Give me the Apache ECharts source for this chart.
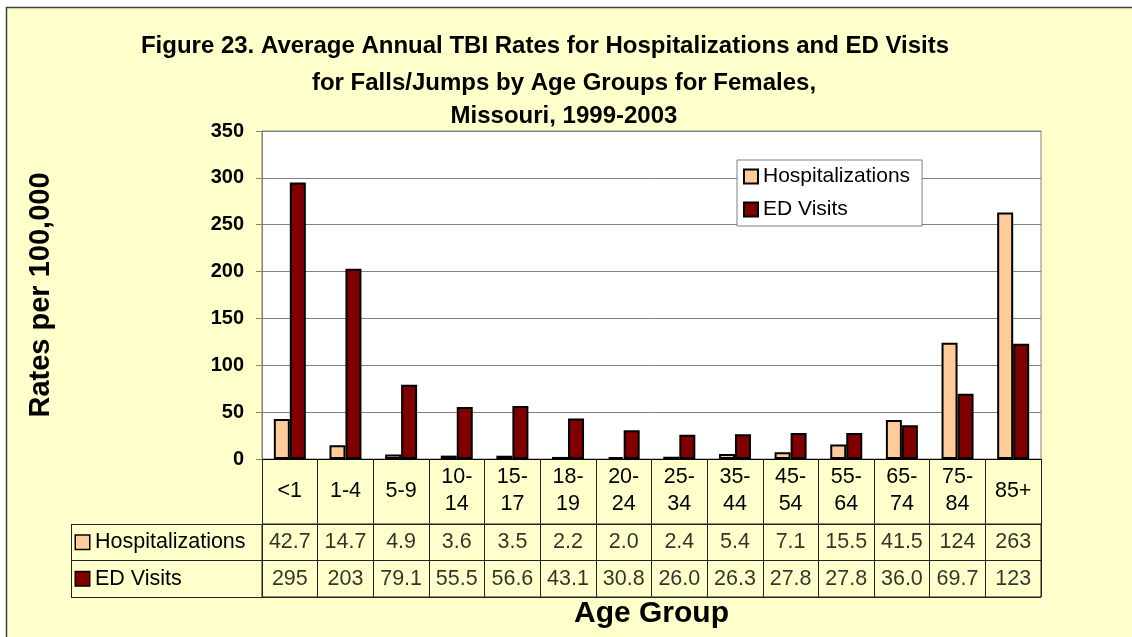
<!DOCTYPE html>
<html lang="en">
<head>
	<meta charset="UTF-8">
	<title>Figure 23</title>
	<script src="https://cdn.jsdelivr.net/npm/echarts@6/dist/echarts.min.js"></script>
	<style>
		html, body { margin: 0; padding: 0; background: #fff; }
		#chart { width: 1132px; height: 637px; }
	</style>
</head>
<body>
<div id="chart"></div>
<script>
	// age groups (x categories)
	var ageGroups = ['<1', '1-4', '5-9', '10-\n14', '15-\n17', '18-\n19', '20-\n24', '25-\n34', '35-\n44', '45-\n54', '55-\n64', '65-\n74', '75-\n84', '85+'];
	// rates per 100,000
	var hospitalizations = [42.7, 14.7, 4.9, 3.6, 3.5, 2.2, 2.0, 2.4, 5.4, 7.1, 15.5, 41.5, 124, 263];
	var edVisits = [295, 203, 79.1, 55.5, 56.6, 43.1, 30.8, 26.0, 26.3, 27.8, 27.8, 36.0, 69.7, 123];
	var rowNames = ['Hospitalizations', 'ED Visits'];
	var yTicks = [0, 50, 100, 150, 200, 250, 300, 350];

	var font = 'Liberation Sans, Arial, sans-serif';
	var peach = '#FFCC99', maroon = '#800000', paper = '#FFFFCC';

	function fmt(v) {
		return v >= 100 ? v.toFixed(0) : v.toFixed(1);
	}

	// table cells: [column, row, value]
	var cells = [];
	for (var i = 0; i < ageGroups.length; i++) {
		cells.push([i, 0, hospitalizations[i]]);
		cells.push([i, 1, edVisits[i]]);
	}

	var chart = echarts.init(document.getElementById('chart'));
	chart.setOption({
		backgroundColor: '#fff',
		textStyle: { fontFamily: font },
		animation: false,
		graphic: [
			{ type: 'rect', z: -100, shape: { x: 6.5, y: 7.5, width: 1200, height: 700 },
				style: { fill: paper, stroke: '#404040', lineWidth: 1.5 } },
			{ type: 'line', z: 10, shape: { x1: 71.5, y1: 524, x2: 71.5, y2: 597 },
				style: { stroke: '#222', lineWidth: 1 } }
		],
		title: [
			{
				text: 'Figure 23. Average Annual TBI Rates for Hospitalizations and ED Visits',
				left: 545, top: 34, textAlign: 'center', padding: 0,
				textStyle: { fontFamily: font, fontSize: 24, fontWeight: 'bold', color: '#000' }
			},
			{
				text: 'for Falls/Jumps by Age Groups for Females,\nMissouri, 1999-2003',
				left: 564, top: 67, textAlign: 'center', padding: 0,
				textStyle: { fontFamily: font, fontSize: 24, fontWeight: 'bold', color: '#000', lineHeight: 33 }
			}
		],
		legend: {
			data: rowNames,
			orient: 'vertical',
			left: 737, top: 160,
			backgroundColor: '#fff',
			borderColor: '#808080', borderWidth: 1,
			padding: [6, 12, 6, 6],
			itemGap: 12,
			itemWidth: 14, itemHeight: 14,
			icon: 'rect',
			textStyle: { fontFamily: font, fontSize: 21, color: '#000' }
		},
		grid: [
			{ left: 262, top: 131, width: 779, height: 328, show: true, backgroundColor: '#fff',
				borderColor: '#808080', borderWidth: 1, containLabel: false },
			{ left: 262, top: 524, width: 779, height: 73, show: true, backgroundColor: 'transparent',
				borderColor: '#222', borderWidth: 1, containLabel: false }
		],
		xAxis: [
			{
				type: 'category', gridIndex: 0, data: ageGroups,
				axisLine: { lineStyle: { color: '#000', width: 1 } },
				axisTick: { show: true, interval: 0, length: 138, lineStyle: { color: '#222' } },
				axisLabel: { interval: 0, margin: 32, verticalAlign: 'middle', fontFamily: font,
					fontSize: 21.5, lineHeight: 27, color: '#000' }
			},
			{
				type: 'category', gridIndex: 1, data: ageGroups,
				axisLine: { show: false }, axisTick: { show: false }, axisLabel: { show: false },
				name: 'Age Group', nameLocation: 'middle', nameGap: 17,
				nameTextStyle: { fontFamily: font, fontSize: 30, fontWeight: 'bold', color: '#000', verticalAlign: 'middle' }
			}
		],
		yAxis: [
			{
				type: 'value', gridIndex: 0, min: yTicks[0], max: yTicks[yTicks.length - 1], interval: 50,
				axisLine: { show: true, lineStyle: { color: '#808080' } },
				axisTick: { show: true, length: 6, lineStyle: { color: '#808080' } },
				axisLabel: { margin: 18, fontFamily: font, fontSize: 20, fontWeight: 'bold', color: '#000' },
				splitLine: { show: true, lineStyle: { color: '#808080', width: 1 } },
				name: 'Rates per 100,000', nameLocation: 'middle', nameGap: 207, nameRotate: 90,
				nameTextStyle: { fontFamily: font, fontSize: 29, fontWeight: 'bold', color: '#000' }
			},
			{
				type: 'category', gridIndex: 1, data: rowNames, inverse: true,
				axisLine: { show: false },
				axisTick: { show: true, interval: 0, length: 191, lineStyle: { color: '#222' } },
				splitLine: { show: true, interval: 0, lineStyle: { color: '#222' } },
				axisLabel: {
					align: 'left', margin: 186, interval: 0,
					formatter: function (name, idx) {
						return (idx === 0 ? '{h|}' : '{e|}') + '{t|' + name + '}';
					},
					rich: {
						h: { width: 13, height: 13, backgroundColor: peach, borderColor: '#000', borderWidth: 1.5 },
						e: { width: 13, height: 13, backgroundColor: maroon, borderColor: '#000', borderWidth: 1.5 },
						t: { fontFamily: font, fontSize: 21.5, color: '#000', padding: [0, 0, 0, 6] }
					}
				}
			}
		],
		series: [
			{
				name: 'Hospitalizations', type: 'bar', xAxisIndex: 0, yAxisIndex: 0,
				data: hospitalizations, barWidth: 16, barGap: '0%',
				itemStyle: { color: peach, borderColor: '#000', borderWidth: 2 }
			},
			{
				name: 'ED Visits', type: 'bar', xAxisIndex: 0, yAxisIndex: 0,
				data: edVisits, barWidth: 16, barGap: '0%',
				itemStyle: { color: maroon, borderColor: '#000', borderWidth: 2 }
			},
			{
				name: 'table', type: 'scatter', xAxisIndex: 1, yAxisIndex: 1,
				data: cells, symbolSize: 1, silent: true,
				itemStyle: { color: 'rgba(0,0,0,0)' },
				label: {
					show: true, position: 'inside', fontFamily: font, fontSize: 21.5, color: '#000',
					formatter: function (p) { return fmt(p.value[2]); }
				}
			}
		]
	});
</script>
</body>
</html>
